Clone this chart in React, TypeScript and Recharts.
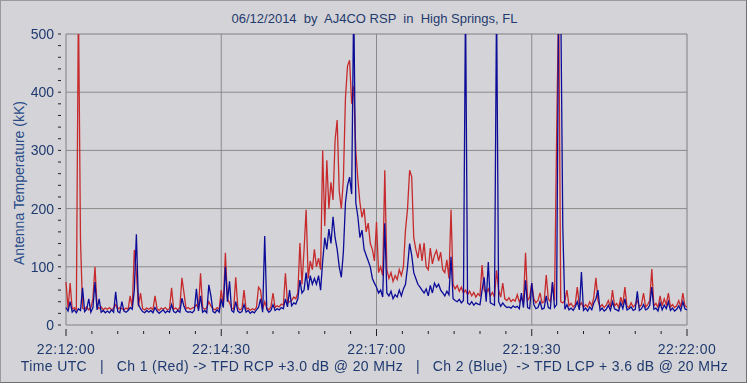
import { LineChart, Line, XAxis, YAxis, CartesianGrid, ReferenceArea } from "recharts";

// one sample every 2 s starting at 22:12:00 UTC
const STEP = 2;

// Ch 1 (red) antenna temperature, kK
const red = [
  74, 28, 72, 27, 30, 26, 560, 146, 29, 27, 31, 26, 30, 45, 100, 32, 28, 31, 26, 29,
  27, 30, 26, 29, 35, 27, 30, 28, 26, 29, 27, 50, 30, 129, 90, 32, 55, 28, 26, 29,
  27, 30, 26, 50, 28, 25, 29, 27, 30, 26, 28, 64, 27, 29, 26, 30, 81, 55, 28, 30,
  27, 29, 31, 35, 28, 89, 30, 27, 29, 40, 33, 28, 26, 30, 27, 60, 35, 124, 45, 38,
  29, 27, 82, 30, 26, 28, 60, 27, 29, 25, 28, 26, 30, 65, 60, 27, 40, 29, 26, 31,
  55, 30, 33, 31, 36, 34, 89, 38, 40, 42, 48, 45, 55, 141, 70, 129, 198, 80, 110, 95,
  130, 100, 115, 95, 300, 170, 283, 200, 245, 215, 318, 352, 230, 200, 250, 390, 445, 455, 380, 410,
  300, 250, 210, 185, 200, 160, 175, 140, 130, 110, 177, 90, 100, 85, 266, 95, 80, 90, 75, 85,
  78, 95, 85, 100, 163, 200, 266, 255, 150, 130, 115, 140, 110, 141, 100, 95, 132, 105, 120, 128,
  110, 125, 95, 90, 112, 80, 198, 70, 62, 68, 58, 65, 55, 60, 52, 58, 50, 56, 48, 54,
  50, 103, 60, 55, 62, 50, 56, 48, 94, 60, 48, 72, 45, 42, 47, 40, 44, 41, 52, 40,
  45, 40, 124, 42, 48, 72, 45, 38, 42, 55, 38, 40, 86, 45, 40, 72, 42, 320, 560, 40,
  38, 42, 60, 33, 37, 31, 35, 65, 33, 38, 30, 35, 31, 40, 33, 48, 81, 42, 31, 35,
  30, 34, 42, 31, 60, 33, 37, 30, 48, 35, 65, 32, 30, 38, 31, 35, 42, 31, 35, 55,
  31, 35, 42, 96, 33, 37, 30, 50, 33, 45, 35, 55, 31, 35, 30, 33, 42, 31, 55, 33, 31,
];

// Ch 2 (blue) antenna temperature, kK
const blue = [
  30, 24, 40, 22, 26, 21, 28, 25, 64, 23, 27, 45, 22, 30, 74, 26, 45, 22, 25, 21,
  24, 21, 26, 22, 57, 23, 21, 40, 24, 22, 25, 30, 27, 60, 156, 35, 28, 23, 21, 25,
  22, 25, 21, 30, 24, 20, 23, 26, 21, 24, 22, 35, 23, 21, 25, 22, 46, 32, 24, 22,
  23, 21, 25, 62, 24, 50, 22, 25, 21, 69, 50, 23, 21, 26, 22, 45, 30, 100, 40, 75,
  25, 22, 40, 24, 21, 23, 35, 22, 25, 20, 23, 21, 26, 30, 45, 22, 153, 27, 22, 25,
  35, 25, 28, 26, 30, 28, 45, 31, 60, 33, 38, 36, 45, 77, 55, 60, 90, 60, 85, 70,
  80, 70, 85, 60, 110, 150, 130, 165, 140, 186, 150, 130, 100, 82, 125, 210, 240, 254, 225, 560,
  210, 186, 150, 163, 130, 120, 110, 100, 80, 72, 65, 55, 60, 48, 175, 55, 50, 58, 45, 52,
  48, 60, 50, 62, 70, 100, 140, 120, 90, 80, 70, 65, 60, 55, 62, 50, 68, 55, 72, 65,
  70, 60, 55, 50, 58, 52, 117, 45, 42, 40, 44, 38, 42, 560, 38, 35, 40, 34, 38, 36,
  35, 60, 82, 40, 108, 38, 36, 34, 560, 40, 32, 38, 33, 30, 31, 29, 33, 30, 32, 28,
  55, 30, 77, 30, 28, 72, 35, 28, 30, 40, 27, 29, 50, 30, 28, 74, 30, 35, 560, 560,
  168, 27, 35, 26, 29, 25, 31, 40, 26, 91, 25, 29, 24, 31, 26, 38, 45, 60, 25, 29,
  24, 27, 34, 25, 40, 28, 26, 24, 38, 28, 45, 26, 28, 31, 25, 27, 58, 25, 28, 35,
  26, 28, 34, 65, 27, 29, 24, 38, 26, 34, 28, 40, 25, 29, 24, 27, 33, 25, 40, 28, 26,
];

const timeTicks = [0, 150, 300, 450, 600];
const timeLabels = ["22:12:00", "22:14:30", "22:17:00", "22:19:30", "22:22:00"];
const tempTicks = [0, 100, 200, 300, 400, 500];

const minorTime = Array.from({ length: 25 }, (_, i) => i * 25);
const minorTemp = Array.from({ length: 26 }, (_, i) => i * 20);

const data = red.map((v, i) => ({ t: i * STEP, red: v, blue: blue[i] }));

const FONT = "'Liberation Sans', Arial, sans-serif";
const TEXT = "#1f3a6e";

function TimeTick(props: any) {
  const { x, y, payload } = props;
  const k = timeTicks.indexOf(payload.value);
  if (k < 0) {
    return <line x1={x} x2={x} y1={y + 6} y2={y + 9} stroke="#222" />;
  }
  return (
    <g>
      <line x1={x} x2={x} y1={y + 4} y2={y + 11} stroke="#222" />
      <text
        x={x}
        y={y + 29}
        textAnchor="middle"
        fill={TEXT}
        fontSize={14}
        fontFamily={FONT}
        letterSpacing={0.5}
      >
        {timeLabels[k]}
      </text>
    </g>
  );
}

function TempTick(props: any) {
  const { x, y, payload } = props;
  const major = tempTicks.includes(payload.value);
  return (
    <g>
      <line x1={x - 8} x2={x - 5} y1={y} y2={y} stroke="#222" />
      {major && (
        <text x={x - 12} y={y + 5} textAnchor="end" fill={TEXT} fontSize={14} fontFamily={FONT}>
          {payload.value}
        </text>
      )}
    </g>
  );
}

export default function App() {
  return (
    <div
      style={{
        position: "fixed",
        left: 0,
        top: 0,
        width: 747,
        height: 383,
        background: "#d4d4d8",
        boxSizing: "border-box",
        border: "1px solid #9a9a9a",
        borderRightColor: "#707070",
        borderBottomColor: "#707070",
        fontFamily: FONT,
      }}
    >
      <div
        style={{
          position: "absolute",
          top: 10,
          left: 0,
          width: 747,
          textAlign: "center",
          whiteSpace: "pre",
          fontSize: 13,
          color: TEXT,
        }}
      >
        {"06/12/2014  by  AJ4CO RSP  in  High Springs, FL"}
      </div>
      <div
        style={{
          position: "absolute",
          left: 10,
          top: 182,
          transform: "translate(-50%, -50%) rotate(-90deg)",
          transformOrigin: "center",
          whiteSpace: "pre",
          fontSize: 14,
          color: "#2a4c88",
          marginLeft: 8,
        }}
      >
        Antenna Temperature (kK)
      </div>
      <div
        style={{
          position: "absolute",
          top: 357,
          left: 0,
          width: 747,
          textAlign: "center",
          whiteSpace: "pre",
          fontSize: 14,
          letterSpacing: 0.38,
          color: TEXT,
        }}
      >
        {"Time UTC   |   Ch 1 (Red) -> TFD RCP +3.0 dB @ 20 MHz   |   Ch 2 (Blue)  -> TFD LCP + 3.6 dB @ 20 MHz"}
      </div>
      <div style={{ position: "absolute", left: -1, top: -1 }}>
        <LineChart width={747} height={383} data={data} margin={{ top: 34, right: 60, bottom: 0, left: 0 }}>
          <CartesianGrid
            stroke="#8a8a8a"
            horizontalValues={[100, 200, 300, 400]}
            verticalValues={[150, 300, 450]}
          />
          <XAxis
            dataKey="t"
            type="number"
            domain={[0, 600]}
            ticks={minorTime}
            interval={0}
            height={58}
            axisLine={false}
            tickLine={false}
            tickSize={0}
            tickMargin={0}
            tick={<TimeTick />}
          />
          <YAxis
            type="number"
            domain={[0, 500]}
            allowDataOverflow
            ticks={minorTemp}
            interval={0}
            width={66}
            axisLine={false}
            tickLine={false}
            tickSize={0}
            tickMargin={0}
            tick={<TempTick />}
          />
          <Line
            type="linear"
            dataKey="red"
            stroke="#c62a2c"
            strokeWidth={1.3}
            dot={false}
            isAnimationActive={false}
          />
          <Line
            type="linear"
            dataKey="blue"
            stroke="#0c0c98"
            strokeWidth={1.3}
            dot={false}
            isAnimationActive={false}
          />
          <ReferenceArea x1={0} x2={600} y1={0} y2={500} fill="none" stroke="#808080" />
        </LineChart>
      </div>
    </div>
  );
}
